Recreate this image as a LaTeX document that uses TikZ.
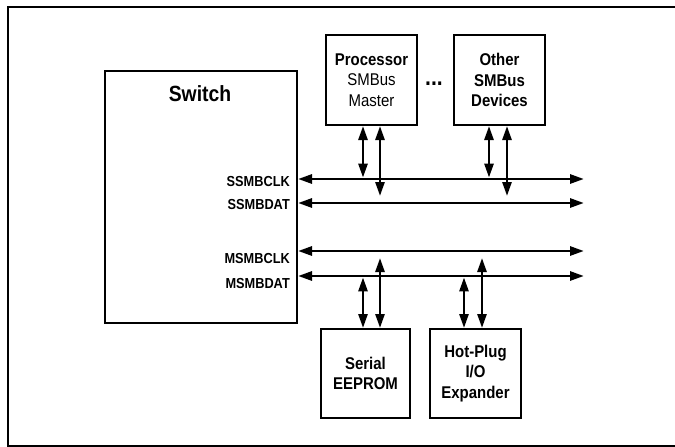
\documentclass[tikz,border=0pt]{standalone}
\usepackage{fontspec}
\setmainfont[FakeStretch=0.88]{Liberation Sans}
\usepackage{tikz}
\usetikzlibrary{arrows.meta}
\usetikzlibrary{positioning}

\begin{document}
\begin{tikzpicture}[x=1pt,y=-1pt,>={Triangle[length=14pt,width=9pt]},
  dev box/.style={draw,line width=2pt,align=center,inner sep=0pt,font=\fontsize{17}{20.5}\selectfont\bfseries},
  sig label/.style={anchor=east,inner sep=0pt,font=\fontsize{14.5}{16}\selectfont\bfseries},
  bus/.style={<->,line width=2.8pt},
  link/.style={<->,line width=2.6pt}]

  \useasboundingbox (0,0) rectangle (675,447);
  \draw[line width=1.8pt] (675,7) -- (8,7) -- (8,446) -- (675,446);

  % switch and its pins
  \node[dev box,minimum width=192pt,minimum height=252pt] (switch) at (201,197) {};
  \node[font=\fontsize{22}{24}\selectfont\bfseries] (swname) at (200,94) {Switch};
  \node[sig label] (lsclk) at (290,182) {SSMBCLK};
  \node[sig label] (lsdat) at (290,205) {SSMBDAT};
  \node[sig label] (lmclk) at (290,259) {MSMBCLK};
  \node[sig label] (lmdat) at (290,284) {MSMBDAT};

  % devices
  \node[dev box,minimum width=91pt,minimum height=90pt] (proc) at (371.5,80) {Processor\\\mdseries SMBus\\\mdseries Master};
  \node[dev box,minimum width=91pt,minimum height=90pt,right=35pt of proc] (other) {Other\\SMBus\\Devices};
  \node[font=\fontsize{24}{24}\selectfont\bfseries,inner sep=0pt] (dots) at (434,84) {...};
  \node[dev box,minimum width=89pt,minimum height=89pt] (serial) at (365.5,373.5) {Serial\\EEPROM};
  \node[dev box,minimum width=91pt,minimum height=89pt,right=18pt of serial] (hotplug) {Hot-Plug\\I/O\\Expander};

  % bus lines
  \coordinate (sclk) at (584,179);
  \coordinate (sdat) at (584,203);
  \coordinate (mclk) at (584,251);
  \coordinate (mdat) at (584,276);
  \foreach \c in {sclk,sdat,mclk,mdat}
    \draw[bus] (switch.east |- \c) -- (\c);

  % taps
  \coordinate (pa) at (363,0);
  \coordinate (pb) at (380,0);
  \coordinate (oa) at (489,0);
  \coordinate (ob) at (507,0);
  \coordinate (ha) at (464,0);
  \coordinate (hb) at (482,0);

  \draw[link] (proc.south -| pa) -- ([yshift=1.4pt]pa |- sclk);
  \draw[link] (proc.south -| pb) -- ([yshift=-17pt]pb |- sclk);
  \draw[link] (other.south -| oa) -- ([yshift=1.4pt]oa |- sclk);
  \draw[link] (other.south -| ob) -- ([yshift=-17pt]ob |- sclk);

  \draw[link] ([yshift=-1.4pt]pa |- mdat) -- (serial.north -| pa);
  \draw[link] ([yshift=-7pt]pb |- mclk) -- (serial.north -| pb);
  \draw[link] ([yshift=-1.4pt]ha |- mdat) -- (hotplug.north -| ha);
  \draw[link] ([yshift=-7pt]hb |- mclk) -- (hotplug.north -| hb);
\end{tikzpicture}
\end{document}
